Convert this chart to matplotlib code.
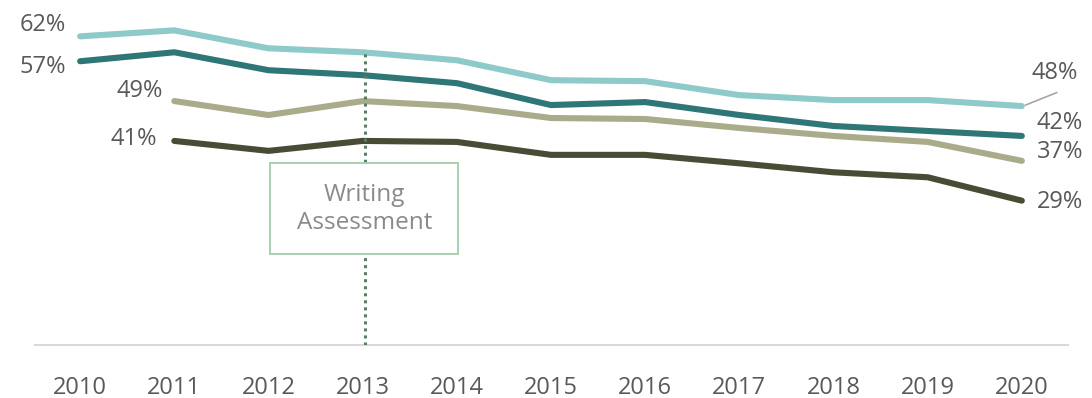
import matplotlib
matplotlib.use("Agg")
import matplotlib.pyplot as plt
from matplotlib.patches import Rectangle

plt.rcParams['font.family'] = ['Open Sans', 'DejaVu Sans']

years = [2010, 2011, 2012, 2013, 2014, 2015, 2016, 2017, 2018, 2019, 2020]

# Four series; the lower two begin in 2011
series_a = [62, 63.2, 59.6, 58.8, 57.2, 53.2, 53.0, 50.2, 49.2, 49.2, 48]
series_b = [57, 58.8, 55.2, 54.2, 52.6, 48.2, 48.8, 46.2, 44.0, 43.0, 42]
series_c = [None, 49, 46.2, 49, 48.0, 45.6, 45.4, 43.6, 42.0, 40.8, 37]
series_d = [None, 41, 39.0, 41, 40.8, 38.2, 38.2, 36.5, 34.7, 33.7, 29]

colors = ['#8fcaca', '#2f7676', '#aaab8b', '#4a4b35']
event_year = 2013
event_label = "Writing\nAssessment"

fig = plt.figure(figsize=(10.92, 3.98), dpi=100)
ax = fig.add_axes([0.032, 0.133, 0.946, 0.867])

for vals, c in zip([series_a, series_b, series_c, series_d], colors):
    xs = [x for x, v in zip(years, vals) if v is not None]
    ys = [v for v in vals if v is not None]
    ax.plot(xs, ys, color=c, lw=4.4, solid_capstyle='round',
            solid_joinstyle='round', zorder=3)

# event marker
ax.plot([event_year + 0.03, event_year + 0.03], [0, series_a[3]], color='#587f66',
        lw=2.2, ls=(0, (1, 1.3)), zorder=4)
ax.add_patch(Rectangle((2012.02, 18.3), 1.99, 18.2, facecolor='white',
                       edgecolor='#a3cdab', lw=1.3, zorder=5))
ax.text(2013.02, 27.3, event_label, ha='center', va='center',
        fontsize=17.5, color='#8a8a8a', linespacing=1.2, zorder=6)

tc = '#595959'
fs = 17
# start labels
ax.text(2009.85, 64.3, f"{series_a[0]}%", ha='right', va='center', fontsize=fs, color=tc)
ax.text(2009.85, 55.8, f"{series_b[0]}%", ha='right', va='center', fontsize=fs, color=tc)
ax.text(2010.88, 51.0, f"{series_c[1]}%", ha='right', va='center', fontsize=fs, color=tc)
ax.text(2010.82, 41.3, f"{series_d[1]}%", ha='right', va='center', fontsize=fs, color=tc)
# end labels
ax.text(2020.1, 54.6, f"{series_a[-1]}%", ha='left', va='center', fontsize=fs, color=tc)
ax.plot([2020.04, 2020.37], [48.2, 50.7], color='#a6a6a6', lw=1.2, zorder=2)
ax.text(2020.16, 44.6, f"{series_b[-1]}%", ha='left', va='center', fontsize=fs, color=tc)
ax.text(2020.16, 38.8, f"{series_c[-1]}%", ha='left', va='center', fontsize=fs, color=tc)
ax.text(2020.16, 28.7, f"{series_d[-1]}%", ha='left', va='center', fontsize=fs, color=tc)

ax.set_xlim(2009.52, 2020.49)
ax.set_ylim(0, 69.3)
ax.set_xticks(years)
ax.set_xticklabels([str(y) for y in years], fontsize=17, color=tc)
ax.tick_params(axis='x', length=0, pad=22)
ax.set_yticks([])
for s in ['top', 'right', 'left']:
    ax.spines[s].set_visible(False)
ax.spines['bottom'].set_color('#d9d9d9')
ax.spines['bottom'].set_linewidth(1.5)

fig.savefig("out.png", dpi=100)
